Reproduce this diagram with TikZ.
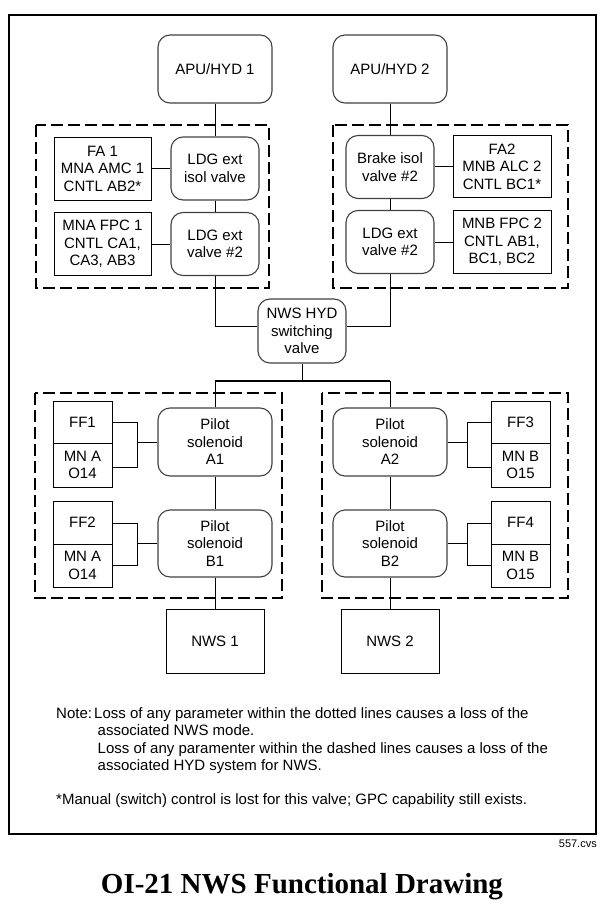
\documentclass[tikz,border=0pt]{standalone}
\usepackage{fontspec}
\setmainfont{Liberation Sans}
\newfontfamily\titlefont{Liberation Serif}
\begin{document}
\begin{tikzpicture}[x=1pt,y=-1pt,
  every node/.style={font=\fontsize{15}{17.5}\selectfont, inner sep=0pt, align=center},
  rbox/.style={draw=black!75, line width=1.1pt, rounded corners=12pt},
  sbox/.style={draw=black, line width=1pt},
  conn/.style={line width=0.9pt},
  bus/.style={line width=1.8pt},
  grp/.style={line width=1.3pt, dash pattern=on 12pt off 5pt},
  txt/.style={anchor=base west, align=left},
]
\useasboundingbox (0,0) rectangle (605,923);
\draw[line width=2.4pt] (9,15) rectangle (596,834);

% group boxes
\draw[grp] (36,125) rectangle (269,288);
\draw[grp] (333,125) rectangle (568,288);
\draw[grp] (35,393) rectangle (282,598);
\draw[grp] (322,393) rectangle (568,598);

% top sources
\node[rbox, minimum width=114pt, minimum height=68pt] (apu1) at (215,69) {APU/HYD 1};
\node[rbox, minimum width=114pt, minimum height=68pt] (apu2) at (390,69) {APU/HYD 2};

% left hydraulic group
\node[rbox, minimum width=88pt, minimum height=63pt] (isol1) at (215,168.5) {LDG ext\\isol valve};
\node[rbox, minimum width=88pt, minimum height=63pt] (ldg1) at (215,244) {LDG ext\\valve \#2};
\node[sbox, minimum width=97pt, minimum height=63pt] (fa1) at (102.5,168.5) {FA 1\\MNA AMC 1\\CNTL AB2*};
\node[sbox, minimum width=97pt, minimum height=63pt] (fpc1) at (102.5,244) {MNA FPC 1\\CNTL CA1,\\CA3, AB3};

% right hydraulic group
\node[rbox, minimum width=88pt, minimum height=63pt] (brake2) at (390,167) {Brake isol\\valve \#2};
\node[rbox, minimum width=88pt, minimum height=63pt] (ldg2) at (390,242) {LDG ext\\valve \#2};
\node[sbox, minimum width=98pt, minimum height=62pt] (fa2) at (502,166.5) {FA2\\MNB ALC 2\\CNTL BC1*};
\node[sbox, minimum width=98pt, minimum height=63pt] (fpc2) at (502,242) {MNB FPC 2\\CNTL AB1,\\BC1, BC2};

% switching valve
\node[rbox, minimum width=88pt, minimum height=64pt] (nwshyd) at (302,331) {NWS HYD\\switching\\valve};

% pilot solenoids
\node[rbox, minimum width=114pt, minimum height=68pt] (pa1) at (215,442) {Pilot\\solenoid\\A1};
\node[rbox, minimum width=114pt, minimum height=67pt] (pb1) at (215,543.5) {Pilot\\solenoid\\B1};
\node[rbox, minimum width=114pt, minimum height=68pt] (pa2) at (390,442) {Pilot\\solenoid\\A2};
\node[rbox, minimum width=114pt, minimum height=67pt] (pb2) at (390,543.5) {Pilot\\solenoid\\B2};

% FF boxes
\node[sbox, minimum width=59pt, minimum height=42pt] (ff1) at (82.5,422) {FF1};
\node[sbox, minimum width=59pt, minimum height=44pt] (mn1) at (82.5,465) {MN A\\O14};
\node[sbox, minimum width=59pt, minimum height=43pt] (ff2) at (82.5,522.5) {FF2};
\node[sbox, minimum width=59pt, minimum height=43pt] (mn2) at (82.5,565.5) {MN A\\O14};
\node[sbox, minimum width=59pt, minimum height=42pt] (ff3) at (520.5,422) {FF3};
\node[sbox, minimum width=59pt, minimum height=44pt] (mn3) at (520.5,465) {MN B\\O15};
\node[sbox, minimum width=59pt, minimum height=43pt] (ff4) at (520.5,522.5) {FF4};
\node[sbox, minimum width=59pt, minimum height=43pt] (mn4) at (520.5,565.5) {MN B\\O15};

% NWS outputs
\node[sbox, minimum width=98pt, minimum height=64pt] (nws1) at (215,641) {NWS 1};
\node[sbox, minimum width=98pt, minimum height=64pt] (nws2) at (390,641) {NWS 2};

% connectors upper
\draw[conn] (apu1) -- (isol1);
\draw[conn] (isol1) -- (ldg1);
\draw[conn] (fa1) -- (fa1 -| isol1.west);
\draw[conn] (fpc1) -- (fpc1 -| ldg1.west);
\draw[conn] (apu2) -- (brake2);
\draw[conn] (brake2) -- (ldg2);
\draw[conn] (fa2) -- (fa2 -| brake2.east);
\draw[conn] (fpc2) -- (fpc2 -| ldg2.east);
\draw[conn] (ldg1.south) |- ([yshift=5pt]nwshyd.west);
\draw[conn] (ldg2.south) |- ([yshift=5pt]nwshyd.east);

% bus
\coordinate (busL) at (215,381);
\coordinate (busR) at (390,381);
\draw[conn] (nwshyd.south) -- (nwshyd.south |- busL);
\draw[bus] (busL) -- (busR);
\draw[conn] (busL) -- (pa1.north);
\draw[conn] (busR) -- (pa2.north);
\draw[conn] (pa1) -- (pb1);
\draw[conn] (pa2) -- (pb2);
\draw[conn] (pb1) -- (nws1);
\draw[conn] (pb2) -- (nws2);

% brackets
\coordinate (b1t) at (137,422); \coordinate (b1b) at (137,467);
\coordinate (b2t) at (137,523); \coordinate (b2b) at (137,565);
\coordinate (b3t) at (467,422); \coordinate (b3b) at (467,467);
\coordinate (b4t) at (467,523); \coordinate (b4b) at (467,565);
\draw[conn] (ff1.east |- b1t) -- (b1t) -- (b1b) -- (mn1.east |- b1b);
\draw[conn] (ff2.east |- b2t) -- (b2t) -- (b2b) -- (mn2.east |- b2b);
\draw[conn] (ff3.west |- b3t) -- (b3t) -- (b3b) -- (mn3.west |- b3b);
\draw[conn] (ff4.west |- b4t) -- (b4t) -- (b4b) -- (mn4.west |- b4b);
\draw[conn] (pa1.west) -- (pa1.west -| b1t);
\draw[conn] (pb1.west) -- (pb1.west -| b2t);
\draw[conn] (pa2.east) -- (pa2.east -| b3t);
\draw[conn] (pb2.east) -- (pb2.east -| b4t);

% notes
\node[txt] (n1a) at (56,718) {Note:};
\node[txt] (n1) at (94,718) {Loss of any parameter within the dotted lines causes a loss of the};
\node[txt] (n2) at (97.5,735.5) {associated NWS mode.};
\node[txt] (n3) at (97.5,753) {Loss of any paramenter within the dashed lines causes a loss of the};
\node[txt] (n4) at (97.5,770.5) {associated HYD system for NWS.};
\node[txt] (n5) at (56,804) {*Manual (switch) control is lost for this valve; GPC capability still exists.};

\node[font=\fontsize{11}{13}\selectfont, anchor=base east] (cvs) at (597,847) {557.cvs};
\node[font=\titlefont\bfseries\fontsize{29}{34}\selectfont, anchor=base] (title) at (302,893) {OI-21 NWS Functional Drawing};
\end{tikzpicture}
\end{document}
